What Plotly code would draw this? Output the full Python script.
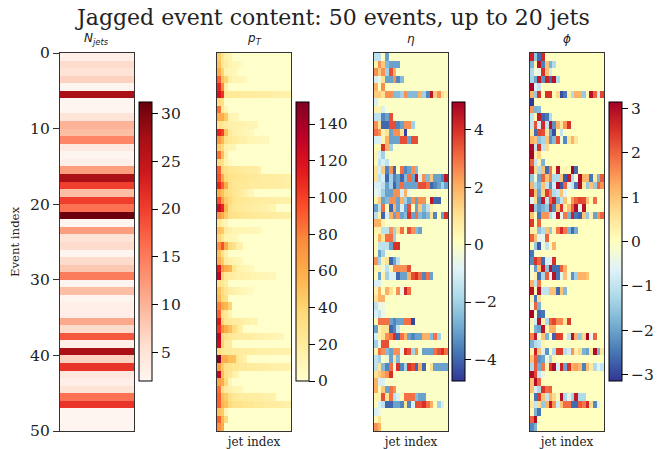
import plotly.graph_objects as go

title = "Jagged event content: 50 events, up to 20 jets"
n_jets = [3,6,5,7,2,27,2,2,5,10,9,14,4,2,3,12,27,20,9,20,16,31,2,12,5,6,2,6,8,15,2,9,2,3,3,11,6,18,3,27,7,21,4,3,5,16,21,2,2,2]

pt_rows = [
[45,25,15,12],[50,25,18,12,10,8,5],[60,40,12,10,8,5],[90,50,40,15,12,10,8,7],[110,75,15],
[120,105,25,22,22,22,20,20,20,20,18,18,18,18,18,16,16,15,15,15],[35,30],[85,20,12],[60,60,45,12,10,8],
[30,25,18,15,15,14,14,12,12,10,10],[110,100,50,22,15,14,12,10,8,6],[70,55,30,25,20,18,15,15,12,10,10,8,8,8],
[45,35,15,12,10],[85,50,15],[35,30,12,5],[90,35,30,25,25,22,22,20,20,18,18,15],
[95,60,35,28,28,25,25,25,22,22,22,20,20,20,18,18,18,18,16,16],[110,90,60,30,25,25,22,22,22,20,20,20,20,18,18,18,18,18,16,16],
[60,50,35,30,25,22,20,15,10,8],[95,65,45,35,28,25,25,22,22,20,20,20,18,18,18,18,16,16,15,15],
[125,110,55,30,25,22,22,20,20,18,18,15,15,15,12,12],[70,60,45,30,28,28,25,25,25,22,22,22,20,20,20,18,18,18,16,16],
[25,15,10],[50,45,20,15,12,12,12,10,10,10,8,8],[40,25,12,10,8,6],
[75,95,60,35,30,15,15],[50,30,15],[60,45,20,15,12,10,8],[115,70,60,55,25,15,12,10,8,6],
[130,40,25,20,18,15,15,14,14,12,12,10,10,10,8,8],[30,25,18],[50,35,25,18,15,12,10,8,5,5],[55,35,30],[80,60,55,40],[90,30,25,12],
[115,40,25,22,20,18,18,15,15,12,12],[105,75,60,50,35,25,15],[130,35,30,25,22,20,20,18,18,18,15,15,15,12,12,12,10,10],[125,40,20,20],
[35,25,22,22,20,20,20,18,18,18,18,16,16,16,15,15,15,15,14,14],[150,60,60,50,50,25,20,15],
[70,45,30,28,25,25,22,22,20,20,20,18,18,18,16,16,15,15,15,14],[130,50,30,25,15,12],[65,60,35,10],[85,30,18,15,12,10,8],
[90,50,45,30,25,22,20,20,20,18,18,18,16,16,15,15],[90,55,50,35,30,28,28,25,25,25,22,22,22,20,20,20,18,18,16,16],[50,45,10],[90,55,35],[75,60],
]
eta_rows = [
[-1.5,-1.5,0.1,-3],[0.5,2.5,1.5,-2.5,-3,-3,-3],[2.5,1.5,2.5,-2,3.5,2],[-1,-0.5,1,-3,-3,2.5,-3.5,-2.5],[2,0.1,2.5],
[1.5,1.5,1,2.5,2.5,-2.5,-2.5,-2,2.5,-2.5,-2.5,-2.5,2,-2,-3.5,4.5,1.5,2.5,1,0.5],[-1],[0.5,0.5,-1],[-1.5,-1.5,-3.5,-3,3.5],
[2.5,1,-4,-4,3.5,3.5,-3.5,-3,2.5,2.5,-2],[3,2.5,0.5,1,-3,2.5,2.5,1,-4.5],[-1,-1,0.5,2,-3,-3,-3,3.5,3.5,-3,3.5,3.5],
[0.3,0.3,4,2,-2],[0.5,-1,-2],[0.3,-1.5,-1,-1.5],[1,-1,1.5,-3.5,2.5,-4,0.1,3,-3.5,-3,2.5,-2.5],
[1,-1.5,-1,-4,-2,-3.5,-3,-4,-2.5,3,-3,4.5,-1,2.5,-2.5,1.5,-3,-3,-3.5,4.5],[-1,-1,-1.5,-3,-2,-4,-3,3,-3,-3,-3,-3,3.5,3.5,3,-4,-3.5,-3,-2,-3],
[-0.5,-1,-2,-3,-3,2.5,2.5,-1,2,-0.5],[0.5,1.5,-3,-2.5,2.5,2.5,-3,2,-2,-3,2.5,-3,2.5,2.5,0.1,4.5,-4,-4],
[-3,-1.5,3,0.1,-4,2,-3,-1,-3,3.5,0.1,-3,1.5,-2.5,-1.5,0.5],[-1.5,0.5,-4,-1,2,-3,2.5,-3,-2.5,4,-3,3,-2.5,-3,-2.5,1,-3.5,0.1,-3,4],
[2,2,0.5],[0.5,0.5,-1.5,-1.5,2.5,-2,1,3,0.3,3.5,2.5,-2.5,-3],[0.3,2,1,3,3,-2],
[0.3,-1.5,-1.5,-1.5,-3,4,4],[0.3,-3,-2],[2.5,-2,0.5,1,-4,-3,-1.5],[0.5,0.5,-0.5,-1.5,0.5,2.5,2.5,2.5,2.5,3.5],
[0.3,-3,0.5,-2,-1,-1,-4,-3,-3,2,3.5,4,3,-3.5,3,-3],[-1,-1],[0.5,2,0.1,2,1,0.1,2.5,-0.5,4.2,3],[1,2,2],[-1.5,-0.5,-0.5],[-1,-1.5,-0.5],
[0.3,3,3,3,-3,-3.5,-3,-3,3,3,-4.5],[-3,0.5,1,1,-4,-3.5,-1.5],[-1,0.5,1,2.5,3,4,-4,3,2,-3,-3.5,-3,-3,2,2,-2.5,3,-2],[-2,-0.5,3.5,3.5],
[0.5,3,2.5,-2.5,-3,2.5,2.5,-0.5,4,3.5,-2,2.5,0.1,-3,-3,-3,3,3.5,4,3],[-1.5,-2,0.1,-0.5,-3,1,-2.5],
[-1.5,1,-2.5,-3.5,3,-0.5,4,-3.5,-2,4,3.5,-4,2,-4,0.1,1,-3,-3,-3,-3],[1,1.5,2,2.5,4],[2,-1,-1],[2,0.3,1.5,-3,3,2.5],
[0.5,0.5,3.5,1,3,-1.5,-1,0.2,3,3,3,-2.5,-3,-3],[0.3,-1,-1.5,-4,-4,-3,-3,-3.5,1,-3.5,-1,3.5,3.5,4,3,2,0.1,-2,-1],[-1,-0.5],[0.3,1],[2.5,2],
]
phi_rows = [
[2.7,-1.5,-2.6,2.6],[-1.8,0.2,2.9,-2.4,1,-1.8,-1.2],[-1.2,-0.3,-0.5,2.5,1,-0.8],[-1.3,-2,2.8,-2.2,2.7,-2.6,2.9,-1.2],[3.1,-0.7,-1],
[1.2,-1.5,2.5,0.1,2.5,2.5,0.1,0.7,-2.9,-2.5,0.3,-1.2,1.2,1.2,-1.5,0.1,2.9,2,-0.8,2.3],[-3.1],[1.5,-1.8,-1.7],[-1,0.1,2.8,-2.7,-2.5,-1.2],
[-1,2.2,-0.8,2.6,-1,2.9,-2.2,1.2,0.5,1.5,2.5],[0.5,-2.6,2.3,2.2,0.5,-2,-2.9,0.1,-1],[1.2,1,-1.6,-1.3,1,-2.2,-1.7,2.2,-0.3,-2.3,0.5,1.2,0.5],
[3,-1,2.5,-1,0.7],[3.1,0.3,0.8],[2,-1,0.2,-1.8],[2.7,0.7,-1.2,1,-2.6,1.8,0.2,2.9,0.1,0.2,0.1,3.1,-2.6],
[-1.5,-0.3,-2,2,1,1.7,-1.2,-1.2,1,-2.8,2.8,-1.2,-0.3,3,1.2,1.1,-2.5,0.4,-1.8,2.1],[1.2,-1.2,-1.7,1,-1,-2.2,-0.8,3,-2.8,2,-0.7,-1,-2.5,3,0.5,-1.5,1,-1.5,2,1.5],
[2.7,1,-2,0.8,2.4,1.7,-1.2,-1,1,-0.6],[-0.6,0.7,-2.3,2.8,-1,2,2.7,-1.8,-1,1,0.1,1.5,2,2.3,2.2,1,0.1,1.9],
[3,-1.5,-2.1,-1.8,-1.5,2.6,-2.3,1,2.5,0.3,1,2,3,-0.5,2.9,0.1],[1,0.1,-2.5,1.5,1.5,-1.2,-0.6,2.9,-0.5,1.8,-1.8,2.7,-2.5,-2.7,1,-1.5,0.3,-2,1.5,2],
[2.4,0.1,2],[0.3,0.3,-1.6,-1.2,1,-1.5,0.2,1.8,2.6,1.8,-1.8,-2.6,-1.9],[2,1,-0.5,-0.5,2],
[0.1,-1.5,-2.8,-0.3,-1,0.1,1.2],[-2.5,-0.2],[-2.3,2.5,2,-2.6,-0.7,-0.7,2.5],[-0.3,-2.1,1,2.8,-1.6,2.9,-2.6,-2.6,2,1.2],
[-0.2,0.3,-2.6,-1.3,2,-0.6,2.9,-2.5,-0.5,1,-0.3,-2.2,-1.4,1.2,1.2,1],[1.2,-1,1.8],[2.9,0.1,2.9,-1,-1,1,1,-2.6,1,-1.7],[0.3,-2.5,0.7],[-0.3,2,-1.8],[3.1,-0.2,-2.6,-2.5],
[0.2,-0.8,2.9,0.2,-1.2,2,2.3,1.6,1.6,0.5,2.4],[0.1,-1.8,-2,2.9,0.2,1.2,1.2],[1.7,2.8,-0.2,1,-1.8,-0.1,-2.7,2.4,2.3,-0.1,-1,2.9,1.2,-1.5,0.7,3.1,-0.5,2],[-1.8,-1.2,-1,0.2],
[0.2,2.7,1,-0.7,-2.2,0.1,-1.2,2.4,2.4,-1.1,-0.8,1.5,0.3,0.7,-1.8,-2,0.5,3,-1.8,0.5],[1,2.1,-2.2,-2,-0.3,-1.3,0.2],
[-1.2,2.1,-1.9,1.8,0.2,2.5,3,-0.8,2.7,-2,2.5,1.2,1.4,1.1,-2.4,1.1,0.4,-1.2,-0.6,-1],[3,2.3,-0.9,-0.4],[1,3,2],[1,-0.7,-1.2,2.5,1.9,2],
[0.2,-2.5,2.4,1,-1,1.2,0.7,0.1,2.9,-1.2,-0.5,-1.3,2.8,-1.2,-1.2],[0.5,-1,0.7,-1.5,1.2,2.8,1.5,-0.8,1,1.9,1.9,-2.6,-2.6,2.1,1.8,2.6,0.7,-2.3,-0.6],
[0.2,-1.8,-2.5],[2,3],[-2.3,-1.8],
]
panel_titles = ["<i>N<sub>jets</sub></i>", "<i>p<sub>T</sub></i>", "<i>η</i>", "<i>ϕ</i>"]
y_ticks = [0, 10, 20, 30, 40, 50]

REDS = ["#fff5f0","#fee0d2","#fcbba1","#fc9272","#fb6a4a","#ef3b2c","#cb181d","#a50f15","#67000d"]
YLORRD = ["#ffffcc","#ffeda0","#fed976","#feb24c","#fd8d3c","#fc4e2a","#e31a1c","#bd0026","#800026"]
RDYLBU_R = ["#313695","#4575b4","#74add1","#abd9e9","#e0f3f8","#ffffbf","#fee090","#fdae61","#f46d43","#d73027","#a50026"]

def scale(colors):
    return [[i / (len(colors) - 1), c] for i, c in enumerate(colors)]

def pad(rows, width=20):
    return [list(r) + [0] * (width - len(r)) for r in rows]

W, H = 672, 449
SERIF = "DejaVu Serif"
INK = "#222222"
left = [60, 217, 374, 530]
plot_w = 74
top, bottom = 53, 431
cb_x = [139, 296, 452, 609]
cb_top, cb_bot = 102, 381

panels = [
    dict(z=[[v] for v in n_jets], cs=REDS, zmin=2, zmax=31.2, ticks=[5,10,15,20,25,30]),
    dict(z=pad(pt_rows), cs=YLORRD, zmin=0, zmax=152, ticks=[0,20,40,60,80,100,120,140]),
    dict(z=pad(eta_rows), cs=RDYLBU_R, zmin=-4.75, zmax=4.97, ticks=[-4,-2,0,2,4]),
    dict(z=pad(phi_rows), cs=RDYLBU_R, zmin=-3.14, zmax=3.14, ticks=[-3,-2,-1,0,1,2,3]),
]

fig = go.Figure()
layout = {}
for i, p in enumerate(panels):
    n = "" if i == 0 else str(i + 1)
    fig.add_trace(go.Heatmap(
        z=p["z"], x0=0.5, dx=1, y0=0.5, dy=1, xaxis="x" + n, yaxis="y" + n,
        colorscale=scale(p["cs"]), zmin=p["zmin"], zmax=p["zmax"], hoverongaps=False,
        colorbar=dict(
            x=cb_x[i] / W, xanchor="left", xref="paper", xpad=0, ypad=0,
            y=1 - cb_bot / H, yanchor="bottom", yref="paper",
            len=cb_bot - cb_top, lenmode="pixels", thickness=13, thicknessmode="pixels",
            outlinecolor="#000", outlinewidth=1, tickmode="array", tickvals=p["ticks"],
            ticks="outside", ticklen=6, tickwidth=1, tickcolor="#000",
            tickfont=dict(family=SERIF, size=15.5, color=INK),
        ),
    ))
    n_cols = len(p["z"][0])
    xaxis = dict(
        domain=[left[i] / W, (left[i] + plot_w) / W], range=[0, n_cols], anchor="y" + n,
        showgrid=False, zeroline=False, showticklabels=False, ticks="",
        showline=True, mirror=True, linecolor="#333", linewidth=1.3,
    )
    if i > 0:
        xaxis["title"] = dict(text="jet index", standoff=6, font=dict(family=SERIF, size=12, color=INK))
    yaxis = dict(
        domain=[1 - bottom / H, 1 - top / H], range=[50, 0], anchor="x" + n,
        showgrid=False, zeroline=False,
        showticklabels=i == 0, ticks="outside" if i == 0 else "", ticklen=6, tickwidth=1, tickcolor="#333",
        tickmode="array", tickvals=y_ticks,
        tickfont=dict(family=SERIF, size=15.5, color=INK),
        showline=True, mirror=True, linecolor="#333", linewidth=1.3,
    )
    if i == 0:
        yaxis["title"] = dict(text="Event index", standoff=7, font=dict(family=SERIF, size=11.7, color=INK))
    layout["xaxis" + n] = xaxis
    layout["yaxis" + n] = yaxis

annotations = [
    dict(text=title, x=332.5 / W, y=1 - 18 / H, xref="paper", yref="paper", showarrow=False,
         xanchor="center", yanchor="middle", font=dict(family=SERIF, size=22, color=INK)),
]
for i, t in enumerate(panel_titles):
    annotations.append(dict(text=t, x=(left[i] + plot_w / 2) / W, y=1 - 39 / H, xref="paper", yref="paper",
                            showarrow=False, xanchor="center", yanchor="middle",
                            font=dict(family="DejaVu Sans", size=12, color=INK)))

fig.update_layout(
    width=W, height=H, autosize=False, margin=dict(l=0, r=0, t=0, b=0, autoexpand=False),
    paper_bgcolor="white", plot_bgcolor="white", showlegend=False,
    annotations=annotations, **layout,
)
fig.write_html("out.html", config={"displayModeBar": False},
               post_script="document.body.style.margin='0';")
